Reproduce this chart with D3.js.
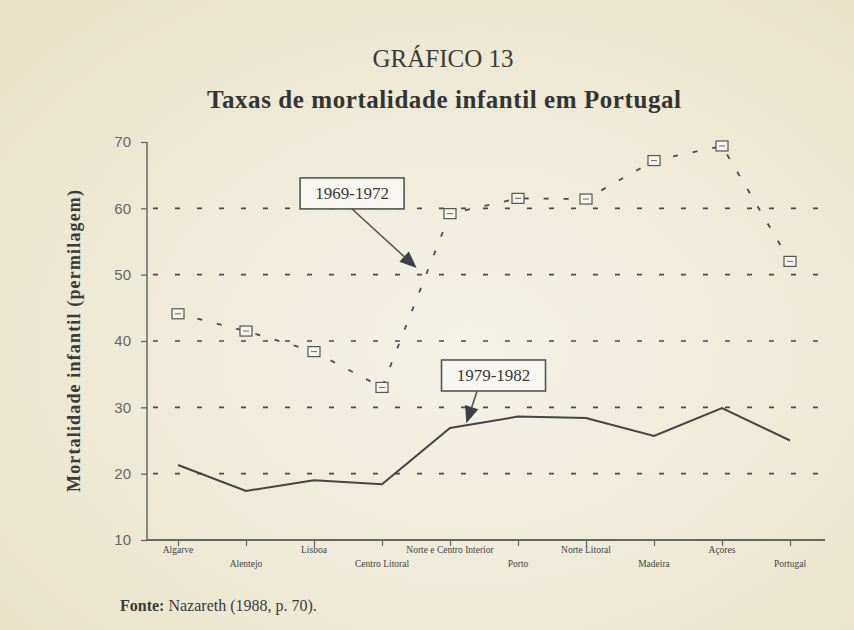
<!DOCTYPE html>
<html lang="pt">
<head>
<meta charset="utf-8"/>
<title>Gráfico 13</title>
<script src="https://cdnjs.cloudflare.com/ajax/libs/d3/7.8.5/d3.min.js"></script>
<style>
  body { margin: 0; background: #efecdc; }
  svg { display: block; }
</style>
</head>
<body>
<div id="chart"></div>
<script>
// regions on the x axis
var regioes = ["Algarve", "Alentejo", "Lisboa", "Centro Litoral", "Norte e Centro Interior",
               "Porto", "Norte Litoral", "Madeira", "Açores", "Portugal"];
// infant mortality, per thousand
var taxas1969 = [44.1, 41.5, 38.4, 33.0, 59.2, 61.5, 61.4, 67.2, 69.4, 52.0];
var taxas1979 = [21.3, 17.4, 19.0, 18.4, 26.9, 28.6, 28.4, 25.7, 29.9, 25.0];
var yTicks = [10, 20, 30, 40, 50, 60, 70];
var gridVals = [20, 30, 40, 50, 60];
// callouts: box centre and arrow in (region index, value) units
var notas = [
  {texto: "1969-1972", bx: 2.56, by: 62.25, ax: 2.56, ay: 59.9, tx: 3.51, ty: 51.0},
  {texto: "1979-1982", bx: 4.64, by: 34.8, ax: 4.40, ay: 32.5, tx: 4.24, ty: 27.6}
];

var W = 854, H = 630;
var svg = d3.select("#chart").append("svg").attr("width", W).attr("height", H);

// scanned paper tint
var grad = svg.append("defs").append("radialGradient").attr("id", "papel")
  .attr("cx", "55%").attr("cy", "55%").attr("r", "70%");
grad.append("stop").attr("offset", "0%").attr("stop-color", "#f4f2e8");
grad.append("stop").attr("offset", "100%").attr("stop-color", "#e9e4c8");
svg.append("rect").attr("width", W).attr("height", H).attr("fill", "url(#papel)");

var x = d3.scalePoint().domain(regioes).range([178, 790]);
var xi = d3.scaleLinear().domain([0, regioes.length - 1]).range([178, 790]); // fractional positions
var y = d3.scaleLinear().domain([10, 70]).range([540, 142]);
var xLeft = 147, xRight = 825;

var serif = "'Liberation Serif', 'DejaVu Serif', serif";

// titles
svg.append("text").attr("x", 443).attr("y", 67).attr("text-anchor", "middle")
  .style("font-family", serif).style("font-size", "25px").attr("fill", "#3a3a3a")
  .text("GRÁFICO 13");
svg.append("text").attr("x", 444).attr("y", 108).attr("text-anchor", "middle")
  .attr("textLength", 474).attr("lengthAdjust", "spacing")
  .style("font-family", serif).style("font-size", "25px").style("font-weight", "bold")
  .attr("fill", "#333").text("Taxas de mortalidade infantil em Portugal");

// gridlines
svg.append("g").selectAll("line").data(gridVals).enter().append("line")
  .attr("x1", xLeft + 6).attr("x2", xRight)
  .attr("y1", function(d) { return y(d); }).attr("y2", function(d) { return y(d); })
  .attr("stroke", "#4a4a4a").attr("stroke-width", 1.6).attr("stroke-dasharray", "5,17");

// y axis
var yAxis = d3.axisLeft(y).tickValues(yTicks).tickSize(6).tickPadding(10);
var gy = svg.append("g").attr("transform", "translate(" + xLeft + ",0)").call(yAxis);
gy.select(".domain").attr("stroke", "#666").attr("stroke-width", 1.5).attr("d", "M0," + y(70) + "V" + y(10));
gy.selectAll(".tick line").attr("stroke", "#666").attr("stroke-width", 1.3);
gy.selectAll(".tick text").attr("fill", "#666")
  .style("font-family", "'Liberation Sans', Arial, sans-serif").style("font-size", "15px");

// x axis
var xAxis = d3.axisBottom(x).tickSize(6).tickFormat("");
var gx = svg.append("g").attr("transform", "translate(0," + y(10) + ")").call(xAxis);
gx.select(".domain").attr("stroke", "#666").attr("stroke-width", 1.8).attr("d", "M" + xLeft + ",0H" + xRight);
gx.selectAll(".tick line").attr("stroke", "#666").attr("stroke-width", 1.2);

svg.append("g").selectAll("text").data(regioes).enter().append("text")
  .attr("x", function(d) { return x(d); })
  .attr("y", function(d, i) { return i % 2 === 0 ? 553 : 567; })
  .attr("text-anchor", "middle")
  .style("font-family", serif).style("font-size", "9.5px").attr("fill", "#444")
  .text(function(d) { return d; });

// y label
svg.append("text").attr("transform", "translate(80,341) rotate(-90)")
  .attr("text-anchor", "middle").attr("textLength", 302).attr("lengthAdjust", "spacing")
  .style("font-family", serif).style("font-size", "18px").style("font-weight", "bold")
  .attr("fill", "#3a3a3a").text("Mortalidade infantil (permilagem)");

// 1969-1972: dashed with square markers
var linha = d3.line().x(function(d, i) { return xi(i); }).y(function(d) { return y(d); });
svg.append("path").datum(taxas1969).attr("d", linha)
  .attr("fill", "none").attr("stroke", "#4a4a4a").attr("stroke-width", 1.8)
  .attr("stroke-dasharray", "5,15");
var mk = svg.append("g").selectAll("g").data(taxas1969).enter().append("g")
  .attr("transform", function(d, i) { return "translate(" + xi(i) + "," + y(d) + ")"; });
mk.append("rect").attr("x", -6).attr("y", -5).attr("width", 12).attr("height", 10)
  .attr("fill", "#f6f4ec").attr("stroke", "#555").attr("stroke-width", 1.2);
mk.append("line").attr("x1", -3).attr("x2", 3).attr("y1", 0).attr("y2", 0)
  .attr("stroke", "#666").attr("stroke-width", 1);

// 1979-1982: solid
svg.append("path").datum(taxas1979).attr("d", linha)
  .attr("fill", "none").attr("stroke", "#444").attr("stroke-width", 2);

// callouts
notas.forEach(function(n) {
  var sx = xi(n.ax), sy = y(n.ay), tx = xi(n.tx), ty = y(n.ty);
  var ang = Math.atan2(ty - sy, tx - sx);
  var L = 17, hw = 7;
  var bx = tx - L * Math.cos(ang), by = ty - L * Math.sin(ang);
  svg.append("line").attr("x1", sx).attr("y1", sy).attr("x2", bx).attr("y2", by)
    .attr("stroke", "#555").attr("stroke-width", 1.6);
  var p1 = [bx + hw * Math.sin(ang), by - hw * Math.cos(ang)];
  var p2 = [bx - hw * Math.sin(ang), by + hw * Math.cos(ang)];
  svg.append("path").attr("d", "M" + tx + "," + ty + "L" + p1 + "L" + p2 + "Z")
    .attr("fill", "#3c4048");
  var cx = xi(n.bx), cy = y(n.by);
  svg.append("rect").attr("x", cx - 52).attr("y", cy - 15.5).attr("width", 104).attr("height", 31)
    .attr("fill", "#f7f6f0").attr("stroke", "#555").attr("stroke-width", 1.6);
  svg.append("text").attr("x", cx).attr("y", cy + 6).attr("text-anchor", "middle")
    .style("font-family", serif).style("font-size", "17px").attr("fill", "#3a3a3a")
    .text(n.texto);
});

// source
var fonte = svg.append("text").attr("x", 120).attr("y", 611)
  .style("font-family", serif).style("font-size", "16px").attr("fill", "#3a3a3a");
fonte.append("tspan").style("font-weight", "bold").text("Fonte:");
fonte.append("tspan").text(" Nazareth (1988, p. 70).");
</script>
</body>
</html>
